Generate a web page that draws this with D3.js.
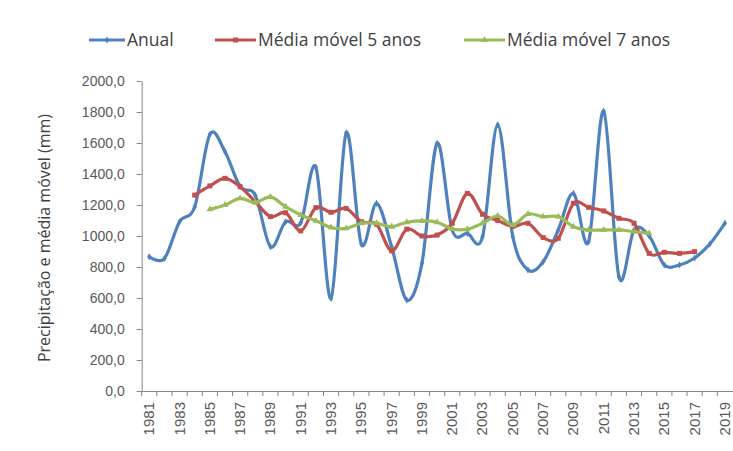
<!DOCTYPE html>
<html>
<head>
<meta charset="utf-8">
<script src="https://cdn.jsdelivr.net/npm/d3@7"></script>
<style>
  body { margin: 0; background: #fff; }
  svg { display: block; font-family: "Open Sans", "Liberation Sans", sans-serif; }
</style>
</head>
<body>
<svg width="733" height="451"></svg>
<script>
// categories
const years = [1981, 1982, 1983, 1984, 1985, 1986, 1987, 1988, 1989, 1990,
  1991, 1992, 1993, 1994, 1995, 1996, 1997, 1998, 1999, 2000,
  2001, 2002, 2003, 2004, 2005, 2006, 2007, 2008, 2009, 2010,
  2011, 2012, 2013, 2014, 2015, 2016, 2017, 2018, 2019];

// annual precipitation (mm)
const anual = [866, 855, 1092, 1189, 1655, 1544, 1318, 1262, 931, 1092,
  1085, 1443, 598, 1665, 948, 1211, 930, 587, 824, 1598,
  1039, 1017, 995, 1717, 995, 781, 834, 1039, 1275, 963,
  1805, 738, 1039, 1000, 813, 813, 858, 948, 1083];

// 5-year moving average
const media5 = [null, null, null, 1264, 1323, 1372, 1318, 1221, 1125, 1150,
  1033, 1183, 1153, 1178, 1092, 1076, 904, 1044, 1000, 1006,
  1082, 1275, 1140, 1100, 1062, 1082, 990, 985, 1211, 1185,
  1162, 1114, 1082, 888, 895, 888, 899, null, null];

// 7-year moving average
const media7 = [null, null, null, null, 1172, 1200, 1243, 1216, 1252, 1189,
  1135, 1098, 1055, 1049, 1082, 1082, 1060, 1089, 1097, 1089,
  1046, 1044, 1082, 1129, 1071, 1142, 1125, 1125, 1060, 1039,
  1039, 1039, 1028, 1017, null, null, null, null, null];

const yTicks = [0, 200, 400, 600, 800, 1000, 1200, 1400, 1600, 1800, 2000];

const series = [
  { name: "Anual", values: anual, color: "#4F81BD", marker: "diamond" },
  { name: "Média móvel 5 anos", values: media5, color: "#C0504D", marker: "square" },
  { name: "Média móvel 7 anos", values: media7, color: "#9BBB59", marker: "triangle" },
];

const svg = d3.select("svg");
const plot = { left: 141.7, right: 732.5, top: 81, bottom: 391 };

const x = d3.scaleBand().domain(years).range([plot.left, plot.right]).padding(0);
const y = d3.scaleLinear().domain([0, 2000]).range([plot.bottom, plot.top]);
const cx = (d) => x(d) + x.bandwidth() / 2;

const fmt = (d) => d3.format(".1f")(d).replace(".", ",");
const axisColor = "#868686";
const textColor = "#595959";

// y axis
const yAxis = svg.append("g")
  .attr("transform", `translate(${plot.left},0)`)
  .call(d3.axisLeft(y).tickValues(yTicks).tickFormat(fmt).tickSize(5).tickSizeOuter(0).tickPadding(12));
yAxis.select(".domain").attr("stroke", axisColor);
yAxis.selectAll(".tick line").attr("stroke", axisColor);
yAxis.selectAll("text").attr("fill", textColor).attr("font-size", "14px");

// x axis
const xAxis = svg.append("g")
  .attr("transform", `translate(0,${plot.bottom})`)
  .call(d3.axisBottom(x).tickFormat((d) => (d % 2 === 1 ? d : "")).tickSize(0).tickSizeOuter(0));
xAxis.select(".domain").attr("stroke", axisColor);
xAxis.selectAll("text")
  .attr("fill", textColor)
  .attr("font-size", "15px")
  .attr("transform", "rotate(-90)")
  .attr("text-anchor", "end")
  .attr("x", -11)
  .attr("y", 0)
  .attr("dy", "0.33em");

// x tick marks between categories
svg.append("g")
  .selectAll("line")
  .data(years)
  .enter()
  .append("line")
  .attr("x1", (d) => x(d))
  .attr("x2", (d) => x(d))
  .attr("y1", plot.bottom)
  .attr("y2", plot.bottom + 5)
  .attr("stroke", axisColor);

// y title
svg.append("text")
  .attr("transform", `translate(50,${(plot.top + plot.bottom) / 2 + 2}) rotate(-90)`)
  .attr("text-anchor", "middle")
  .attr("fill", "#404040")
  .attr("font-size", "16px")
  .text("Precipitação e média móvel (mm)");

const line = d3.line()
  .defined((d) => d.v != null)
  .x((d) => cx(d.year))
  .y((d) => y(d.v))
  .curve(d3.curveCardinal.tension(0));

function markerPath(type, size) {
  if (type === "square") return d3.symbol(d3.symbolSquare, size * size)();
  if (type === "triangle") return d3.symbol(d3.symbolTriangle, size * size * 0.8)();
  return d3.symbol(d3.symbolDiamond, size * size * 0.6)();
}

series.forEach((s) => {
  const pts = years.map((yr, i) => ({ year: yr, v: s.values[i] })).filter((d) => d.v != null);
  svg.append("path")
    .datum(pts)
    .attr("fill", "none")
    .attr("stroke", s.color)
    .attr("stroke-width", 3.2)
    .attr("stroke-linejoin", "round")
    .attr("d", line);
  svg.append("g")
    .selectAll("path")
    .data(pts)
    .enter()
    .append("path")
    .attr("transform", (d) => `translate(${cx(d.year)},${y(d.v)})`)
    .attr("d", markerPath(s.marker, 5))
    .attr("fill", s.color);
});

// legend
const legendItems = [
  { x: 89, w: 36 },
  { x: 215, w: 41 },
  { x: 464, w: 41 },
];
series.forEach((s, i) => {
  const g = svg.append("g").attr("transform", `translate(${legendItems[i].x},40)`);
  g.append("line")
    .attr("x1", 0).attr("x2", legendItems[i].w)
    .attr("stroke", s.color).attr("stroke-width", 3);
  g.append("path")
    .attr("transform", `translate(${legendItems[i].w / 2},0)`)
    .attr("d", markerPath(s.marker, 5))
    .attr("fill", s.color);
  g.append("text")
    .attr("x", legendItems[i].w + 2)
    .attr("dy", "0.35em")
    .attr("fill", "#404040")
    .attr("font-size", "17.5px")
    .text(s.name);
});
</script>
</body>
</html>
